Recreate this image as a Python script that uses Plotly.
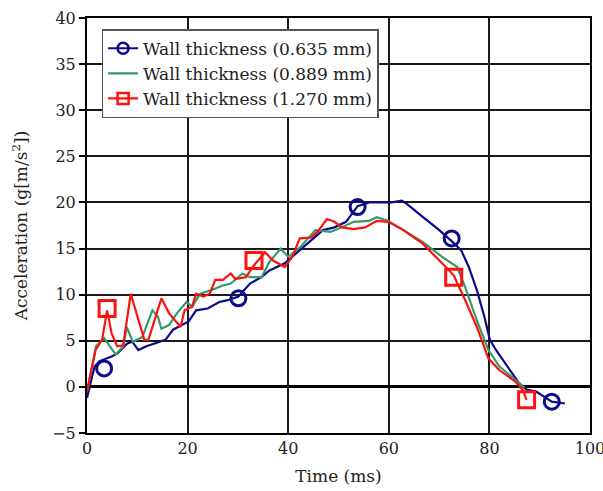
import plotly.graph_objects as go

# Acceleration histories for three wall thicknesses
t_0635 = [0, 1.5, 2.5, 3.5, 4.9, 6, 8, 9, 10.2, 11.8, 13.3, 15.6, 17.1, 20.2, 21.7, 24, 26.3, 28,
          30.1, 32.4, 34.7, 36.2, 39.3, 40.8, 43.9, 46.9, 49.2, 51.5, 53.8, 56.1, 59.1, 60.6, 62.6,
          63.7, 66.8, 69.8, 72.5, 74.4, 75.9, 77.5, 79, 80.1, 81.3, 83.6, 85.9, 87.4, 89.3, 92.4, 95]
a_0635 = [-1.2, 2.2, 2.8, 3.0, 3.3, 3.6, 4.7, 4.9, 4.0, 4.4, 4.7, 5.1, 6.2, 7.1, 8.3, 8.5, 9.2, 9.4,
          9.8, 11.2, 11.9, 12.6, 13.4, 14.1, 15.5, 17.0, 17.3, 17.9, 19.6, 20.0, 20.0, 20.0, 20.2,
          19.8, 18.4, 17.1, 15.8, 14.8, 13.0, 10.5, 7.6, 5.1, 4.0, 2.2, 0.4, -0.3, -0.5, -1.6, -1.8]

t_0889 = [0, 1.8, 3.4, 5.7, 7.2, 7.9, 9.1, 11, 13, 14.1, 14.8, 16.3, 17.9, 19.8, 20.9, 22.5, 24.8,
          27, 28.6, 30.9, 32.4, 34.7, 36.2, 38.5, 40, 42.3, 45.4, 48.4, 50.7, 53, 56.1, 57.6, 59.9,
          62.9, 66.8, 70.6, 73.6, 75.2, 77.5, 79.8, 82, 85.1, 87]
a_0889 = [-0.5, 4.4, 5.3, 3.5, 4.4, 6.5, 4.9, 5.4, 8.3, 7.6, 6.3, 6.7, 8.0, 9.2, 8.7, 10.1, 10.5,
          11.0, 11.2, 12.3, 11.9, 11.9, 13.5, 15.0, 14.1, 15.1, 17.0, 16.8, 17.3, 17.9, 18.0, 18.4,
          18.0, 17.0, 15.7, 14.1, 13.0, 10.8, 7.2, 4.0, 2.2, 0.8, -0.1]

t_1270 = [0, 1.7, 3.0, 4.0, 4.9, 6.0, 7.2, 8.7, 11.4, 12.2, 14.8, 16.3, 18.6, 19.4, 20.9, 21.7,
          23.2, 24.4, 25.5, 27, 28.6, 29.5, 31.6, 33.2, 35.4, 37, 39.3, 40.8, 42.3, 44.6, 46.1, 47.7,
          49.2, 50.7, 53, 55.3, 57.6, 59.9, 62.9, 66.8, 70.6, 72.9, 75.2, 77.5, 79.8, 82, 85.1,
          86.6, 87.4]
a_1270 = [-0.5, 4.0, 5.1, 8.3, 5.8, 4.4, 4.5, 10.1, 5.1, 5.1, 9.6, 8.0, 6.5, 8.3, 8.7, 10.1, 9.8,
          10.1, 11.6, 11.6, 12.3, 11.7, 11.9, 13.2, 14.6, 13.7, 13.0, 14.1, 16.1, 16.2, 17.0, 18.2,
          17.9, 17.3, 17.1, 17.3, 18.0, 17.9, 17.0, 15.5, 13.4, 12.1, 9.4, 6.5, 3.1, 1.8, 0.6,
          -0.3, -1.4]

# Marker positions along each curve
mk_t_0635 = [3.4, 30.1, 53.8, 72.5, 92.4]
mk_a_0635 = [2.0, 9.6, 19.5, 16.1, -1.6]
mk_t_1270 = [4.0, 33.2, 72.9, 87.4]
mk_a_1270 = [8.5, 13.7, 11.9, -1.4]

names = ["Wall thickness (0.635 mm)", "Wall thickness (0.889 mm)", "Wall thickness (1.270 mm)"]
BLUE, GREEN, RED = "#0b0b8a", "#35996a", "#ff1010"
FONT = "DejaVu Serif"

fig = go.Figure()
fig.add_trace(go.Scatter(x=t_0635, y=a_0635, mode="lines", line=dict(color=BLUE, width=2.2),
                         showlegend=False))
fig.add_trace(go.Scatter(x=mk_t_0635, y=mk_a_0635, mode="markers", showlegend=False,
                         marker=dict(symbol="circle-open", size=15, color=BLUE,
                                     line=dict(width=3, color=BLUE))))
fig.add_trace(go.Scatter(x=t_0889, y=a_0889, mode="lines", line=dict(color=GREEN, width=2.2),
                         showlegend=False))
fig.add_trace(go.Scatter(x=t_1270, y=a_1270, mode="lines", line=dict(color=RED, width=2.2),
                         showlegend=False))
fig.add_trace(go.Scatter(x=mk_t_1270, y=mk_a_1270, mode="markers", showlegend=False,
                         marker=dict(symbol="square-open", size=16, color=RED,
                                     line=dict(width=3, color=RED))))

# Legend entries
fig.add_trace(go.Scatter(x=[None], y=[None], mode="lines+markers", name=names[0],
                         line=dict(color=BLUE, width=2.2),
                         marker=dict(symbol="circle-open", size=11, color=BLUE,
                                     line=dict(width=2.5, color=BLUE))))
fig.add_trace(go.Scatter(x=[None], y=[None], mode="lines", name=names[1],
                         line=dict(color=GREEN, width=2.2)))
fig.add_trace(go.Scatter(x=[None], y=[None], mode="lines+markers", name=names[2],
                         line=dict(color=RED, width=2.2),
                         marker=dict(symbol="square-open", size=11, color=RED,
                                     line=dict(width=2.5, color=RED))))

axis_common = dict(showgrid=True, gridcolor="#1a1a1a", gridwidth=1.6,
                   showline=True, linecolor="black", linewidth=2, mirror=True,
                   ticklabeloverflow="allow", automargin=False,
                   tickfont=dict(family=FONT, size=16, color="#222"))

fig.update_layout(
    width=603, height=491,
    margin=dict(l=87, r=13, t=18, b=58),
    paper_bgcolor="white", plot_bgcolor="white",
    font=dict(family=FONT, size=16, color="#222"),
    xaxis=dict(range=[0, 100], tickvals=[0, 20, 40, 60, 80, 100], zeroline=False,
               ticks="", title=dict(text="Time (ms)", font=dict(family=FONT, size=17),
                                    standoff=13),
               **axis_common),
    yaxis=dict(range=[-5, 40], tickvals=[-5, 0, 5, 10, 15, 20, 25, 30, 35, 40],
               zeroline=True, zerolinecolor="black", zerolinewidth=3,
               ticks="outside", ticklen=6, tickcolor="black", tickwidth=1.5,
               title=dict(text="Acceleration (g[m/s<sup>2</sup>])",
                          font=dict(family=FONT, size=17), standoff=20),
               **axis_common),
    legend=dict(x=0.029, y=0.973, xanchor="left", yanchor="top",
                bgcolor="white", bordercolor="#555", borderwidth=1.5,
                font=dict(family=FONT, size=17, color="#222"),
                itemwidth=30, tracegroupgap=0),
    showlegend=True,
)

fig.write_html("out.html")
